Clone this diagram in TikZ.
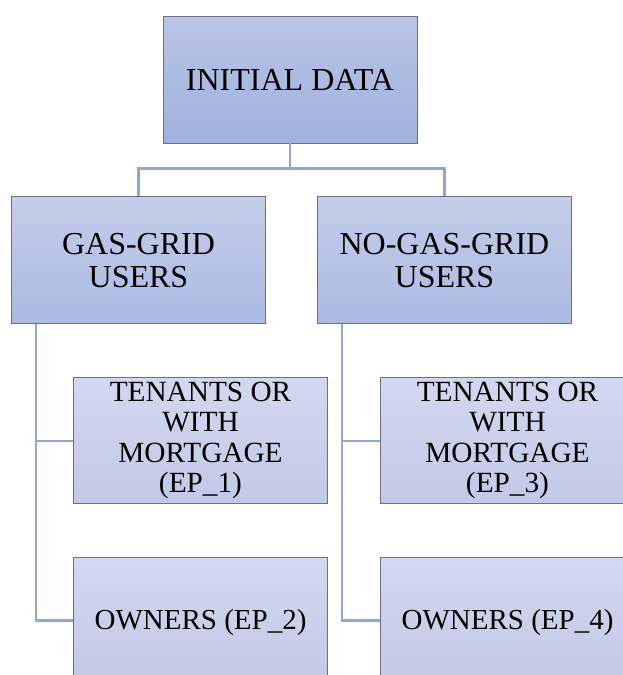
\documentclass[tikz,border=0pt]{standalone}
\usepackage{fontspec}
\setmainfont{Liberation Serif}
\usetikzlibrary{positioning,calc}

\definecolor{boxline}{RGB}{108,112,128}
\definecolor{linkblue}{RGB}{143,166,216}
\definecolor{rootT}{RGB}{186,197,229}
\definecolor{rootB}{RGB}{159,177,222}
\definecolor{grpT}{RGB}{196,205,234}
\definecolor{grpB}{RGB}{170,186,226}
\definecolor{leafT}{RGB}{210,216,238}
\definecolor{leafB}{RGB}{192,201,232}

\begin{document}
\begin{tikzpicture}[x=1pt,y=-1pt,
  root/.style={draw=boxline,thick,top color=rootT,bottom color=rootB,align=center,minimum width=254pt,minimum height=127pt,font=\fontsize{32}{36}\selectfont},
  group/.style={draw=boxline,thick,top color=grpT,bottom color=grpB,align=center,minimum width=254pt,minimum height=127pt,font=\fontsize{32}{33}\selectfont},
  leaf/.style={draw=boxline,thick,top color=leafT,bottom color=leafB,align=center,minimum width=254pt,minimum height=126pt,font=\fontsize{29.3}{30.5}\selectfont},
  owner/.style={leaf,font=\fontsize{29}{30}\selectfont,text height=26pt,text depth=7pt},
  link/.style={draw=linkblue,line width=2.2pt}
]
\useasboundingbox (0,0) rectangle (622,675);

% top
\node[root] (data) at (290,79.5) {INITIAL DATA};

% second level
\node[group,below=53pt of data.south,xshift=-151.5pt] (gas) {GAS-GRID\\USERS};
\node[group,below=53pt of data.south,xshift=154.5pt] (nogas) {NO-GAS-GRID\\USERS};

% leaves
\node[leaf,below=53pt of gas.south west,anchor=north west,xshift=62pt] (ep1) {TENANTS OR\\WITH\\MORTGAGE\\(EP\_1)};
\node[owner,below=53pt of ep1] (ep2) {OWNERS (EP\_2)};
\node[leaf,below=53pt of nogas.south west,anchor=north west,xshift=63pt] (ep3) {TENANTS OR\\WITH\\MORTGAGE\\(EP\_3)};
\node[owner,below=53pt of ep3] (ep4) {OWNERS (EP\_4)};

% connectors
\draw[link] (data.south) -- ++(0,25) -| (gas.north);
\draw[link] (data.south) -- ++(0,25) -| (nogas.north);
\draw[link] ($(gas.south west)+(25,0)$) |- (ep1.west);
\draw[link] ($(gas.south west)+(25,0)$) |- (ep2.west);
\draw[link] ($(nogas.south west)+(25,0)$) |- (ep3.west);
\draw[link] ($(nogas.south west)+(25,0)$) |- (ep4.west);
\end{tikzpicture}
\end{document}
